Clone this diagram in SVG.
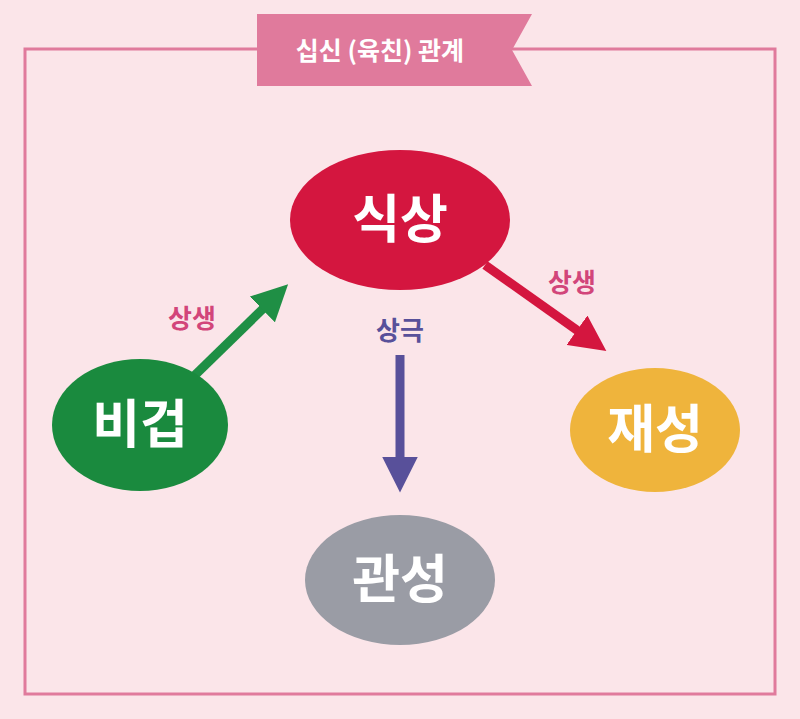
<svg xmlns="http://www.w3.org/2000/svg" width="800" height="719" viewBox="0 0 800 719">
<style>
.t{font-family:"Noto Sans CJK KR",sans-serif;font-weight:bold;text-anchor:middle}
.n{fill:#fff;font-size:52px}
.l{font-size:26px}
</style>
<defs>
<marker id="ag" markerWidth="4" markerHeight="4" refX="1.5" refY="2" orient="auto"><path d="M0,0L4,2L0,4z" fill="#1f8f45"/></marker>
<marker id="ar" markerWidth="4" markerHeight="4" refX="1.5" refY="2" orient="auto"><path d="M0,0L4,2L0,4z" fill="#d4163f"/></marker>
<marker id="ap" markerWidth="4" markerHeight="4" refX="1.5" refY="2" orient="auto"><path d="M0,0L4,2L0,4z" fill="#58509a"/></marker>
</defs>
<rect width="800" height="719" fill="#fbe5e9"/>
<rect x="25" y="49" width="750" height="645" fill="none" stroke="#e07a9c" stroke-width="3"/>
<g id="title">
<path d="M257,14H532L512,50L532,86H257z" fill="#e07a9c"/>
<text class="t" x="380" y="60" font-size="25" fill="#fff">십신 (육친) 관계</text>
</g>
<g id="connectors">
<line x1="192" y1="378" x2="272" y2="300" stroke="#1f8f45" stroke-width="9" marker-end="url(#ag)"/>
<line x1="485" y1="265" x2="588" y2="338" stroke="#d4163f" stroke-width="9" marker-end="url(#ar)"/>
<line x1="400" y1="355" x2="400" y2="470" stroke="#58509a" stroke-width="9" marker-end="url(#ap)"/>
<text class="t l" x="192" y="328" fill="#d2457a">상생</text>
<text class="t l" x="572" y="292" fill="#d2457a">상생</text>
<text class="t l" x="400" y="340" fill="#58509a">상극</text>
</g>
<g id="sikang"><ellipse cx="400" cy="220" rx="110" ry="70" fill="#d4163f"/><text class="t n" x="400" y="238">식상</text></g>
<g id="bigeop"><ellipse cx="140" cy="425" rx="88" ry="66" fill="#1a8a3e"/><text class="t n" x="140" y="443">비겁</text></g>
<g id="jaeseong"><ellipse cx="655" cy="430" rx="85" ry="62" fill="#efb43c"/><text class="t n" x="655" y="448">재성</text></g>
<g id="gwanseong"><ellipse cx="400" cy="580" rx="95" ry="65" fill="#9a9ca5"/><text class="t n" x="400" y="598">관성</text></g>
</svg>
